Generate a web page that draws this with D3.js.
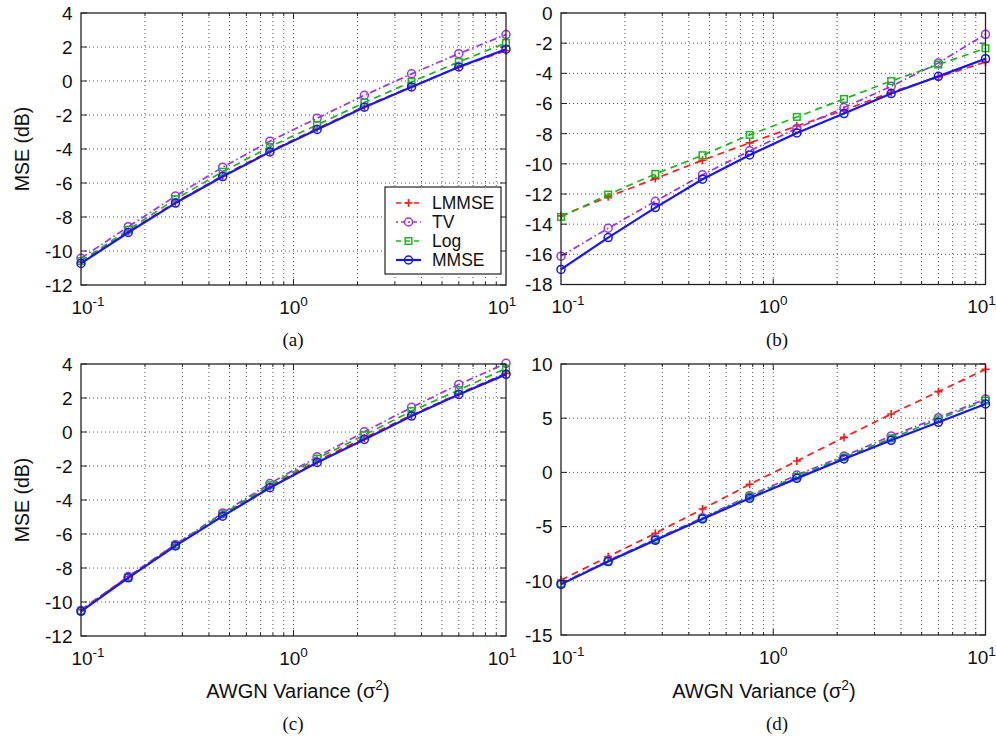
<!DOCTYPE html>
<html><head><meta charset="utf-8">
<script src="https://cdn.jsdelivr.net/npm/d3@7"></script>
<style>body{margin:0;background:#fff}</style>
</head><body>
<svg id="chart" width="996" height="737"></svg>
<script>
// ---------- data ----------
const xValues = [0.1, 0.1668, 0.2783, 0.4642, 0.7743, 1.2915, 2.1544, 3.5938, 5.9948, 10];
const seriesNames = ["LMMSE", "TV", "Log", "MMSE"];

const aLMMSE = [-10.68, -8.86, -7.13, -5.57, -4.12, -2.80, -1.50, -0.33, 0.82, 1.78];
const aTV    = [-10.43, -8.57, -6.77, -5.07, -3.54, -2.19, -0.84, 0.42, 1.61, 2.73];
const aLog   = [-10.60, -8.75, -6.95, -5.34, -3.87, -2.58, -1.27, -0.05, 1.12, 2.24];
const aMMSE  = [-10.73, -8.91, -7.18, -5.62, -4.17, -2.85, -1.54, -0.35, 0.83, 1.87];

const bLMMSE = [-13.45, -12.19, -10.98, -9.76, -8.61, -7.49, -6.45, -5.25, -4.24, -3.25];
const bTV    = [-16.12, -14.27, -12.48, -10.73, -9.14, -7.65, -6.27, -4.86, -3.31, -1.41];
const bLog   = [-13.52, -12.04, -10.67, -9.43, -8.08, -6.89, -5.70, -4.51, -3.42, -2.34];
const bMMSE  = [-17.00, -14.89, -12.90, -11.02, -9.41, -7.95, -6.67, -5.34, -4.20, -3.03];

const cLMMSE = [-10.45, -8.50, -6.60, -4.85, -3.20, -1.70, -0.35, 1.00, 2.25, 3.45];
const cTV    = [-10.50, -8.50, -6.62, -4.76, -3.03, -1.46, 0.01, 1.45, 2.80, 4.04];
const cLog   = [-10.52, -8.56, -6.66, -4.83, -3.13, -1.56, -0.18, 1.23, 2.47, 3.74];
const cMMSE  = [-10.55, -8.58, -6.70, -4.95, -3.28, -1.79, -0.44, 0.94, 2.21, 3.39];

const dLMMSE = [-9.93, -7.77, -5.62, -3.38, -1.10, 1.05, 3.23, 5.39, 7.45, 9.51];
const dTV    = [-10.23, -8.14, -6.14, -4.18, -2.15, -0.24, 1.51, 3.36, 5.05, 6.77];
const dLog   = [-10.27, -8.20, -6.20, -4.24, -2.24, -0.39, 1.39, 3.14, 4.90, 6.62];
const dMMSE  = [-10.33, -8.23, -6.27, -4.30, -2.39, -0.55, 1.24, 2.96, 4.62, 6.31];

const yTicksAC = [-12, -10, -8, -6, -4, -2, 0, 2, 4];
const yTicksB  = [-18, -16, -14, -12, -10, -8, -6, -4, -2, 0];
const yTicksD  = [-15, -10, -5, 0, 5, 10];
const xTickExps = [-1, 0, 1];
const xTickLabelShift = [7, 0, -4];
const xGridValues = [0.2,0.3,0.4,0.5,0.6,0.7,0.8,0.9,1,2,3,4,5,6,7,8,9];
const panelLabels = ["(a)", "(b)", "(c)", "(d)"];
const yLabelText = "MSE (dB)";
const xLabelText = "AWGN Variance (σ";

// ---------- styles ----------
const styles = {
  LMMSE: {color: "#ff1a1a", dash: "7,5", marker: "plus", width: 1.7},
  TV:    {color: "#9933ee", dash: "7,3,1.5,3", marker: "circle", width: 1.7},
  Log:   {color: "#1db51d", dash: "7,5", marker: "square", width: 1.7},
  MMSE:  {color: "#1515ff", dash: null, marker: "circle", width: 2.2}
};
const SANS = "'Liberation Sans', Arial, Helvetica, sans-serif";
const SERIF = "'Liberation Serif', 'Times New Roman', serif";

const panels = [
  {L: 81, R: 506, T: 13, B: 285, dom: [-12, 4], ticks: yTicksAC, data: [aLMMSE, aTV, aLog, aMMSE],
   label: panelLabels[0], lx: 293, ly: 346, ylabel: true, xlabel: false, legend: true},
  {L: 561, R: 985.5, T: 13, B: 284.5, dom: [-18, 0], ticks: yTicksB, data: [bLMMSE, bTV, bLog, bMMSE],
   label: panelLabels[1], lx: 777, ly: 346, ylabel: false, xlabel: false, legend: false},
  {L: 81, R: 506, T: 364, B: 636, dom: [-12, 4], ticks: yTicksAC, data: [cLMMSE, cTV, cLog, cMMSE],
   label: panelLabels[2], lx: 293, ly: 730, ylabel: true, xlabel: true, xlx: 298, legend: false},
  {L: 561, R: 985.5, T: 364, B: 635, dom: [-15, 10], ticks: yTicksD, data: [dLMMSE, dTV, dLog, dMMSE],
   label: panelLabels[3], lx: 777, ly: 730, ylabel: false, xlabel: true, xlx: 764, legend: false}
];

const svg = d3.select("#chart");

function drawMarker(g, type, x, y, color) {
  if (type === "circle") {
    g.append("circle").attr("cx", x).attr("cy", y).attr("r", 4)
      .attr("fill", "none").attr("stroke", color).attr("stroke-width", 1.5);
  } else if (type === "square") {
    g.append("rect").attr("x", x - 3.3).attr("y", y - 3.3).attr("width", 6.6).attr("height", 6.6)
      .attr("fill", "none").attr("stroke", color).attr("stroke-width", 1.5);
  } else if (type === "plus") {
    g.append("path").attr("d", `M${x-4},${y}H${x+4}M${x},${y-4}V${y+4}`)
      .attr("stroke", color).attr("stroke-width", 1.6);
  }
}

panels.forEach((p) => {
  const g = svg.append("g");
  const x = d3.scaleLog().domain([0.1, 10]).range([p.L, p.R]);
  const y = d3.scaleLinear().domain(p.dom).range([p.B, p.T]);

  g.append("rect").attr("x", p.L).attr("y", p.T).attr("width", p.R - p.L).attr("height", p.B - p.T).attr("fill", "#fff");

  // grid
  const grid = g.append("g").attr("stroke", "#555").attr("stroke-width", 1).attr("stroke-dasharray", "1,3");
  xGridValues.forEach(v => {
    grid.append("line").attr("x1", x(v)).attr("x2", x(v)).attr("y1", p.T).attr("y2", p.B);
  });
  p.ticks.slice(1, -1).forEach(v => {
    grid.append("line").attr("x1", p.L).attr("x2", p.R).attr("y1", y(v)).attr("y2", y(v));
  });

  // series
  seriesNames.forEach((name, i) => {
    const st = styles[name];
    const vals = p.data[i];
    const pts = xValues.map((xv, k) => [x(xv), y(vals[k])]);
    g.append("path").attr("d", d3.line()(pts)).attr("fill", "none")
      .attr("stroke", st.color).attr("stroke-width", st.width)
      .attr("stroke-dasharray", st.dash).attr("stroke-linejoin", "round");
    const mg = g.append("g");
    pts.forEach(pt => drawMarker(mg, st.marker, pt[0], pt[1], st.color));
  });

  // box + ticks
  const ax = g.append("g").attr("stroke", "#222").attr("fill", "none");
  ax.append("rect").attr("x", p.L).attr("y", p.T).attr("width", p.R - p.L).attr("height", p.B - p.T).attr("stroke-width", 1.3);
  p.ticks.forEach(v => {
    ax.append("line").attr("x1", p.L).attr("x2", p.L + 6).attr("y1", y(v)).attr("y2", y(v));
    ax.append("line").attr("x1", p.R).attr("x2", p.R - 6).attr("y1", y(v)).attr("y2", y(v));
  });
  xGridValues.forEach(v => {
    const len = (v === 1) ? 6 : 3;
    ax.append("line").attr("x1", x(v)).attr("x2", x(v)).attr("y1", p.B).attr("y2", p.B - len);
    ax.append("line").attr("x1", x(v)).attr("x2", x(v)).attr("y1", p.T).attr("y2", p.T + len);
  });

  // y tick labels
  p.ticks.forEach(v => {
    g.append("text").attr("x", p.L - 8.5).attr("y", y(v)).attr("dy", "0.36em")
      .attr("text-anchor", "end").attr("font-family", SANS).attr("font-size", 19).attr("fill", "#111")
      .text(v);
  });
  // x tick labels
  xTickExps.forEach((e, i) => {
    const t = g.append("text").attr("x", x(Math.pow(10, e)) + xTickLabelShift[i]).attr("y", p.B + 28.5)
      .attr("text-anchor", "middle").attr("font-family", SANS).attr("font-size", 19).attr("fill", "#111");
    t.append("tspan").text("10");
    t.append("tspan").attr("dy", -8).attr("font-size", 13.5).text(String(e));
  });

  if (p.ylabel) {
    g.append("text").attr("transform", `translate(28.5,${(p.T + p.B) / 2}) rotate(-90)`)
      .attr("text-anchor", "middle").attr("font-family", SANS).attr("font-size", 19.5).attr("fill", "#111")
      .text(yLabelText);
  }
  if (p.xlabel) {
    const t = g.append("text").attr("x", p.xlx).attr("y", 698).attr("text-anchor", "middle")
      .attr("font-family", SANS).attr("font-size", 20).attr("fill", "#111");
    t.append("tspan").text(xLabelText);
    t.append("tspan").attr("dy", -8).attr("font-size", 14).text("2");
    t.append("tspan").attr("dy", 8).text(")");
  }
  g.append("text").attr("x", p.lx).attr("y", p.ly).attr("text-anchor", "middle")
    .attr("font-family", SERIF).attr("font-size", 19).attr("fill", "#111").text(p.label);

  if (p.legend) {
    const lg = g.append("g");
    lg.append("rect").attr("x", 385).attr("y", 187).attr("width", 116).attr("height", 87)
      .attr("fill", "#fff").attr("stroke", "#222").attr("stroke-width", 1.2);
    seriesNames.forEach((name, i) => {
      const st = styles[name];
      const yy = 203 + i * 19;
      lg.append("line").attr("x1", 396).attr("x2", 421).attr("y1", yy).attr("y2", yy)
        .attr("stroke", st.color).attr("stroke-width", st.width)
        .attr("stroke-dasharray", name === "TV" ? "2,3,4,3" : (st.dash ? "5,4" : null));
      drawMarker(lg, st.marker, 408.5, yy, st.color);
      lg.append("text").attr("x", 432).attr("y", yy).attr("dy", "0.36em")
        .attr("font-family", SANS).attr("font-size", 17.5).attr("fill", "#111").text(name);
    });
  }
});
</script>
</body></html>
